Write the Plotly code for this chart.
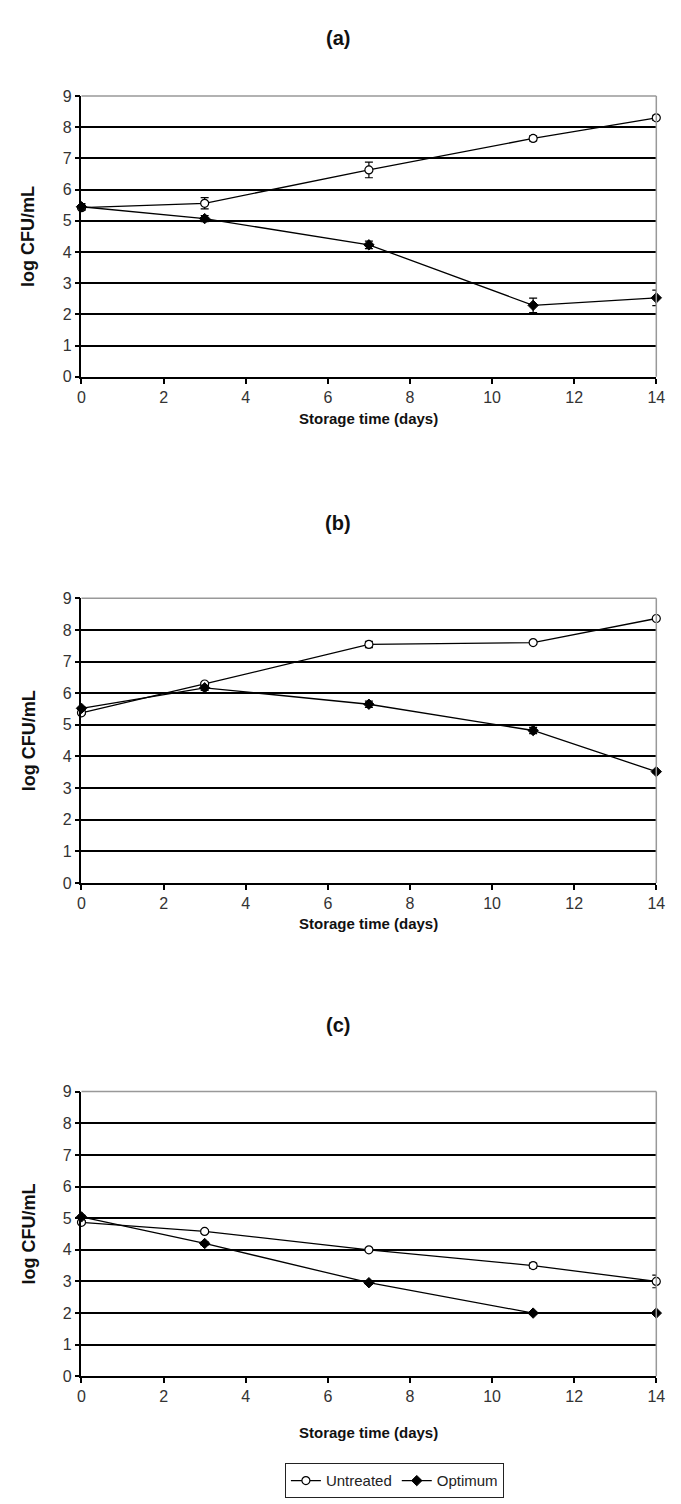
import plotly.graph_objects as go

days = [0, 3, 7, 11, 14]

# Panel (a)
a_untreated = [5.42, 5.56, 6.63, 7.64, 8.30]
a_untreated_err = [0.08, 0.18, 0.25, 0.08, 0.08]
a_optimum = [5.45, 5.07, 4.23, 2.29, 2.53]
a_optimum_err = [0.10, 0.10, 0.12, 0.23, 0.25]

# Panel (b)
b_untreated = [5.38, 6.29, 7.54, 7.60, 8.36]
b_untreated_err = [0.05, 0.05, 0.10, 0.05, 0.04]
b_optimum = [5.52, 6.17, 5.65, 4.82, 3.52]
b_optimum_err = [0.05, 0.08, 0.10, 0.10, 0.04]

# Panel (c)
c_untreated = [4.87, 4.58, 4.00, 3.50, 3.00]
c_untreated_err = [0.05, 0.05, 0.05, 0.08, 0.20]
c_optimum = [5.04, 4.20, 2.96, 2.00, 2.00]
c_optimum_err = [0.05, 0.05, 0.05, 0.03, 0.03]

panel_titles = ["(a)", "(b)", "(c)"]
x_title = "Storage time (days)"
y_title = "log CFU/mL"
series_names = ["Untreated", "Optimum"]

W, H = 681, 1504
x_dom = [79 / W, 665 / W]
panel_px = [(89, 373), (597, 885), (1096, 1384)]
title_py = [30, 521, 1029]
xtitle_py = [415, 926, 1441]

FONT = "Liberation Sans, Arial, sans-serif"

fig = go.Figure()
panels = [
    (a_untreated, a_untreated_err, a_optimum, a_optimum_err),
    (b_untreated, b_untreated_err, b_optimum, b_optimum_err),
    (c_untreated, c_untreated_err, c_optimum, c_optimum_err),
]

for i, (u, ue, o, oe) in enumerate(panels):
    xa = "x" if i == 0 else f"x{i+1}"
    ya = "y" if i == 0 else f"y{i+1}"
    fig.add_trace(go.Scatter(
        x=days, y=u, name=series_names[0], mode="lines+markers",
        line=dict(color="black", width=1.3),
        marker=dict(symbol="circle", size=8, color="white", line=dict(color="black", width=1.2)),
        error_y=dict(type="data", array=ue, color="black", thickness=1.2, width=4),
        xaxis=xa, yaxis=ya, cliponaxis=False, showlegend=(i == 2),
    ))
    fig.add_trace(go.Scatter(
        x=days, y=o, name=series_names[1], mode="lines+markers",
        line=dict(color="black", width=1.3),
        marker=dict(symbol="diamond", size=8, color="black", line=dict(color="black", width=1)),
        error_y=dict(type="data", array=oe, color="black", thickness=1.2, width=4),
        xaxis=xa, yaxis=ya, cliponaxis=False, showlegend=(i == 2),
    ))

layout = dict(
    width=W, height=H,
    margin=dict(l=0, r=0, t=0, b=0),
    paper_bgcolor="white", plot_bgcolor="white",
    font=dict(family=FONT, color="#333333"),
    legend=dict(
        orientation="h", x=398 / W, xanchor="center", y=1 - 1472 / H, yanchor="top",
        bordercolor="#222222", borderwidth=1, font=dict(size=15, color="#222222"),
        itemwidth=30, tracegroupgap=0, bgcolor="white",
    ),
    annotations=[], shapes=[],
)

for i in range(3):
    sx = "" if i == 0 else str(i + 1)
    top, bot = panel_px[i]
    layout[f"xaxis{sx}"] = dict(
        domain=x_dom, range=[0, 14], anchor=f"y{sx}", dtick=2, tick0=0,
        showgrid=False, zeroline=False, showline=True, linecolor="black", linewidth=1.5,
        ticks="outside", ticklen=5, tickcolor="black", tickwidth=1.5,
        tickfont=dict(size=16, color="#333333"),
    )
    layout[f"yaxis{sx}"] = dict(
        domain=[1 - bot / H, 1 - top / H], range=[0, 9], anchor=f"x{sx}", dtick=1,
        showgrid=True, gridcolor="black", gridwidth=1.5, zeroline=False,
        showline=True, linecolor="black", linewidth=1.5,
        ticks="outside", ticklen=5, tickcolor="black", tickwidth=1.5,
        tickfont=dict(size=16, color="#333333"),
    )
    xr = "x" if i == 0 else f"x{i+1}"
    yr = "y" if i == 0 else f"y{i+1}"
    # top & right gray frame
    layout["shapes"].append(dict(type="line", xref=f"{xr} domain", yref=f"{yr} domain",
                                 x0=0, x1=1, y0=1, y1=1, line=dict(color="#999999", width=1.5)))
    layout["shapes"].append(dict(type="line", xref=f"{xr} domain", yref=f"{yr} domain",
                                 x0=1, x1=1, y0=0, y1=1, line=dict(color="#999999", width=1.5)))
    layout["annotations"].append(dict(
        text=f"<b>{panel_titles[i]}</b>", xref="paper", yref="paper",
        x=340 / W, y=1 - title_py[i] / H, showarrow=False,
        font=dict(size=20, color="#111111"), xanchor="center", yanchor="middle"))
    layout["annotations"].append(dict(
        text=f"<b>{x_title}</b>", xref="paper", yref="paper",
        x=372 / W, y=1 - xtitle_py[i] / H, showarrow=False,
        font=dict(size=15, color="#111111"), xanchor="center", yanchor="middle"))
    layout["annotations"].append(dict(
        text=f"<b>{y_title}</b>", xref="paper", yref="paper",
        x=25 / W, y=1 - (top + bot) / 2 / H, showarrow=False, textangle=-90,
        font=dict(size=18, color="#111111"), xanchor="center", yanchor="middle"))

fig.update_layout(**layout)
fig.write_html("out.html")
